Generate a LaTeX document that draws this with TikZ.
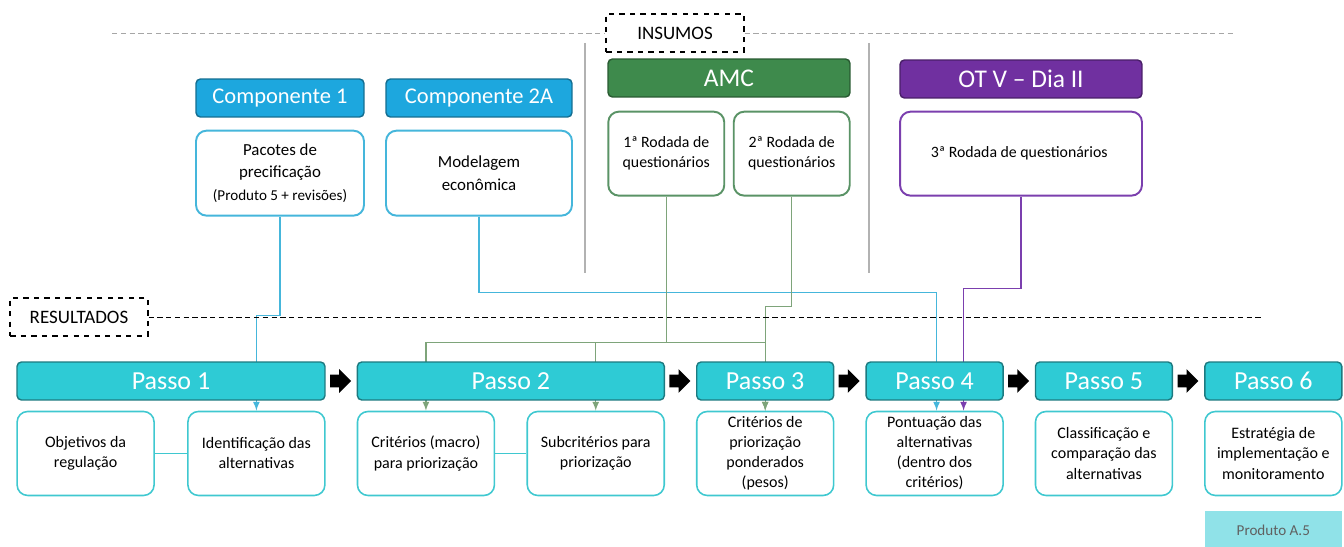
\documentclass[tikz,border=0pt]{standalone}
\usepackage{fontspec}
\setmainfont{Carlito}
\usepackage{tikz}
\usetikzlibrary{positioning,shapes,arrows,backgrounds}
\usepackage{xcolor}

\definecolor{compblue}{HTML}{1DA7DE}
\definecolor{compline}{HTML}{45B6DB}
\definecolor{amcgreen}{HTML}{3E8A4C}
\definecolor{amcline}{HTML}{5A9366}
\definecolor{wiregreen}{HTML}{7EA47A}
\definecolor{otpurple}{HTML}{7030A0}
\definecolor{otline}{HTML}{7B3FAE}
\definecolor{passofill}{HTML}{2ECBD5}
\definecolor{stepline}{HTML}{3FC8D0}
\definecolor{prodfill}{HTML}{90E2E8}

\begin{document}
\begin{tikzpicture}[x=0.02cm, y=-0.02cm,
    comphead/.style={
        draw=compblue!65!black,
        fill=compblue,
        rectangle,
        rounded corners=2.5pt,
        minimum height=0.76cm,
        line width=0.8pt,
        text=white,
        font=\fontsize{12.8}{15}\selectfont
    },
    compbox/.style={
        draw=compline,
        fill=white,
        rectangle,
        rounded corners=6pt,
        minimum height=1.7cm,
        line width=1.1pt,
        align=center,
        font=\fontsize{9.6}{12.8}\selectfont
    },
    amchead/.style={
        comphead,
        draw=amcgreen!65!black,
        fill=amcgreen,
        font=\fontsize{14.5}{16}\selectfont
    },
    amcbox/.style={
        compbox,
        draw=amcline,
        minimum height=1.68cm,
        font=\fontsize{9}{11.4}\selectfont
    },
    othead/.style={
        amchead,
        draw=otpurple!65!black,
        fill=otpurple
    },
    otbox/.style={
        amcbox,
        draw=otline
    },
    tag/.style={
        draw=black,
        fill=white,
        dashed,
        line width=0.9pt,
        rectangle,
        minimum height=0.77cm,
        minimum width=2.75cm,
        font=\fontsize{10.8}{12}\selectfont
    },
    passo/.style={
        draw=passofill!60!black,
        fill=passofill,
        rectangle,
        rounded corners=2.5pt,
        minimum height=0.76cm,
        minimum width=2.74cm,
        line width=0.8pt,
        text=white,
        font=\fontsize{14.8}{17}\selectfont
    },
    result/.style={
        draw=stepline,
        fill=white,
        rectangle,
        rounded corners=6pt,
        minimum height=1.68cm,
        minimum width=2.74cm,
        inner sep=1pt,
        line width=0.9pt,
        align=center,
        font=\fontsize{9.1}{11.4}\selectfont
    },
    blockarrow/.style={
        single arrow,
        fill=black,
        inner sep=0.12cm,
        minimum height=0.42cm,
        single arrow head extend=0.11cm
    },
    sepline/.style={densely dashed, gray, line width=0.5pt},
    divider/.style={gray!60, line width=0.6pt},
    bluewire/.style={->, >=latex, compline, line width=0.75pt},
    greenwire/.style={->, >=latex, wiregreen, line width=0.75pt},
    purplewire/.style={->, >=latex, otline, line width=0.75pt},
    link/.style={stepline, line width=0.9pt}
]
    \useasboundingbox (0,0) rectangle (1344,547);

    % Insumos
    \node[tag] (ins) at (675,33) {INSUMOS};
    \coordinate (topl) at (112,33);
    \coordinate (topr) at (1236,33);
    \draw[sepline, gray!70] (topl) -- (ins.west);
    \draw[sepline, gray!70] (ins.east) -- (topr);

    \coordinate (vla) at (585,43);
    \coordinate (vlb) at (585,273);
    \coordinate (vra) at (869,43);
    \coordinate (vrb) at (869,273);
    \draw[divider] (vla) -- (vlb);
    \draw[divider] (vra) -- (vrb);

    % Componentes
    \node[comphead, minimum width=3.36cm] (comp1) at (280,98) {Componente 1};
    \node[comphead, minimum width=3.72cm] (comp2) at (479,98) {Componente 2A};
    \node[compbox, minimum width=3.36cm, below=0.24cm of comp1] (pac) {
        Pacotes de\\
        precificação\\
        {\fontsize{8.6}{11}\selectfont (Produto 5 + revisões)}
    };
    \node[compbox, minimum width=3.72cm, below=0.24cm of comp2] (mod) {
        Modelagem\\
        econômica
    };

    % AMC
    \node[amchead, minimum width=4.84cm] (amc) at (729,78) {AMC};
    \node[amcbox, minimum width=2.32cm, below right=0.26cm and 0cm of amc.south west] (rod1) {
        1ª Rodada de\\
        questionários
    };
    \node[amcbox, minimum width=2.32cm, below left=0.26cm and 0cm of amc.south east] (rod2) {
        2ª Rodada de\\
        questionários
    };

    % OT V
    \node[othead, minimum width=4.84cm] (otv) at (1021,79) {OT V – Dia II};
    \node[otbox, minimum width=4.84cm, below=0.24cm of otv] (rod3) {
        3ª Rodada de questionários
    };

    % Resultados
    \node[tag] (res) at (79,317) {RESULTADOS};
    \coordinate (resr) at (1262,317);
    \draw[sepline, black] (res.east) -- (resr);

    % Passos
    \node[passo, minimum width=6.16cm] (p1) at (171,381) {Passo 1};
    \node[passo, minimum width=6.14cm, right=0.62cm of p1] (p2) {Passo 2};
    \node[passo, right=0.62cm of p2] (p3) {Passo 3};
    \node[passo, right=0.62cm of p3] (p4) {Passo 4};
    \node[passo, right=0.62cm of p4] (p5) {Passo 5};
    \node[passo, right=0.62cm of p5] (p6) {Passo 6};

    \node[blockarrow, right=0.08cm of p1] (a12) {};
    \node[blockarrow, right=0.08cm of p2] (a23) {};
    \node[blockarrow, right=0.08cm of p3] (a34) {};
    \node[blockarrow, right=0.08cm of p4] (a45) {};
    \node[blockarrow, right=0.08cm of p5] (a56) {};

    % Resultados de cada passo
    \node[result, below right=0.2cm and 0cm of p1.south west] (obj) {
        Objetivos da\\
        regulação
    };
    \node[result, below left=0.2cm and 0cm of p1.south east] (ident) {
        Identificação das\\
        alternativas
    };
    \node[result, below right=0.2cm and 0cm of p2.south west] (crit) {
        Critérios (macro)\\
        para priorização
    };
    \node[result, below left=0.2cm and 0cm of p2.south east] (sub) {
        Subcritérios para\\
        priorização
    };
    \node[result, below=0.2cm of p3] (pond) {
        Critérios de\\
        priorização\\
        ponderados\\
        (pesos)
    };
    \node[result, below=0.2cm of p4] (pont) {
        Pontuação das\\
        alternativas\\
        (dentro dos\\
        critérios)
    };
    \node[result, below=0.2cm of p5] (clas) {
        Classificação e\\
        comparação das\\
        alternativas
    };
    \node[result, below=0.2cm of p6] (estr) {
        Estratégia de\\
        implementação e\\
        monitoramento
    };
    \draw[link] (obj) -- (ident);
    \draw[link] (crit) -- (sub);

    \node[fill=prodfill, minimum width=2.74cm, minimum height=0.8cm,
          text=gray!75!black, font=\fontsize{8.6}{10}\selectfont,
          below=0.28cm of estr] (prod) {Produto A.5};

    % Ligacoes insumos -> passos
    \begin{pgfonlayer}{background}
        \draw[bluewire] (pac.south) -- ++(0,99) -| (ident.north);
        \draw[bluewire] (mod.south) -- ++(0,76) -| ([xshift=0.04cm]pont.north);
        \draw[purplewire] (rod3.south) -- ++(0,92) -| ([xshift=0.58cm]pont.north);
        \draw[greenwire, -] (rod1.south) -- ++(0,146) coordinate (gj);
        \draw[greenwire] (gj) -| (crit.north);
        \draw[greenwire] (gj) -| (sub.north);
        \draw[greenwire] (gj) -| (pond.north);
        \draw[greenwire] (rod2.south) -- ++(0,110) -| (pond.north);
    \end{pgfonlayer}
\end{tikzpicture}
\end{document}
